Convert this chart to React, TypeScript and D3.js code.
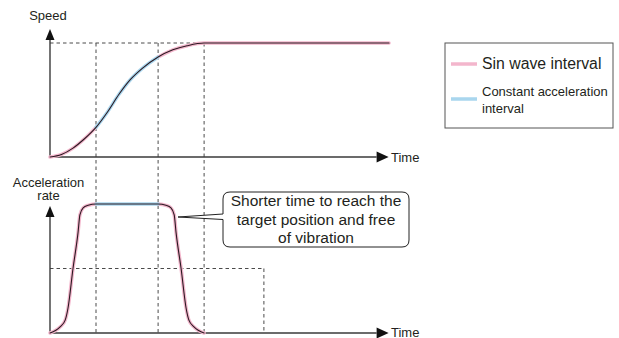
import React from "react";
import * as d3 from "d3";

// Phase boundaries (time units: one sine-ramp duration = 1)
const phaseTimes = [1, 2.35, 3.35];
const flatEnd = 7.37;
const axisEnd = 7.1;
const compareEnd = 4.65;
const compareLevel = 0.5;

// Speed curve (normalized)
const speedT = [0, 0.25, 0.5, 0.75, 1.0, 1.25, 1.5, 1.75, 2.0, 2.35, 2.67, 2.98, 3.35, 7.37];
const speedV = [0, 0.022, 0.078, 0.16, 0.26, 0.395, 0.55, 0.68, 0.775, 0.877, 0.94, 0.976, 1.0, 1.0];

// Acceleration curve (normalized)
const accT = [0, 0.22, 0.33, 0.39, 0.5, 0.61, 0.65, 0.72, 0.83, 1.0, 2.35, 2.52, 2.63, 2.7, 2.74, 2.85, 2.96, 3.02, 3.13, 3.35];
const accV = [0, 0.047, 0.1, 0.19, 0.5, 0.78, 0.915, 0.97, 0.99, 1.0, 1.0, 0.99, 0.97, 0.915, 0.78, 0.5, 0.19, 0.1, 0.047, 0];

const legendLabels = ["Sin wave interval", ["Constant acceleration", "interval"]];
const calloutLines = ["Shorter time to reach the", "target position and free", "of vibration"];

const PINK = "#f3b6cc";
const BLUE = "#a9d6ee";
const DARK = "#2b1a22";
const AXIS = "#3a3a3a";
const DASH = "#4a4a4a";
const FONT = "'Liberation Sans', Arial, Helvetica, sans-serif";
const TEXT = "#231f20";

export default function App() {
  const x = d3.scaleLinear().domain([0, 1]).range([50, 96]);
  const yS = d3.scaleLinear().domain([0, 1]).range([157, 43]);
  const yA = d3.scaleLinear().domain([0, 1]).range([333, 204]);

  const speedPts: [number, number][] = speedT.map((t, i) => [t, speedV[i]]);
  const accPts: [number, number][] = accT.map((t, i) => [t, accV[i]]);

  const lineS = d3.line<[number, number]>().x((d) => x(d[0])).y((d) => yS(d[1])).curve(d3.curveMonotoneX);
  const lineA = d3.line<[number, number]>().x((d) => x(d[0])).y((d) => yA(d[1])).curve(d3.curveMonotoneX);

  const [t1, t2, t3] = phaseTimes;
  const seg = (pts: [number, number][], a: number, b: number) => pts.filter((p) => p[0] >= a - 1e-9 && p[0] <= b + 1e-9);

  const x0 = x(0);
  const xAxisEnd = x(axisEnd);

  const xArrow = (yy: number) => `M${xAxisEnd},${yy - 5.5} L${xAxisEnd + 12},${yy} L${xAxisEnd},${yy + 5.5} Z`;
  const yArrow = (tip: number) => `M${x0 - 4.5},${tip + 11} L${x0},${tip} L${x0 + 4.5},${tip + 11} Z`;

  // callout box
  const bx0 = 223, bx1 = 409, by0 = 192, by1 = 247, r = 7;
  const tipX = 178, tipY = 217;
  const calloutPath = [
    `M${bx0 + r},${by0}`,
    `L${bx1 - r},${by0}`,
    `Q${bx1},${by0} ${bx1},${by0 + r}`,
    `L${bx1},${by1 - r}`,
    `Q${bx1},${by1} ${bx1 - r},${by1}`,
    `L${bx0 + r},${by1}`,
    `Q${bx0},${by1} ${bx0},${by1 - r}`,
    `L${bx0},219.5`,
    `L${tipX},${tipY}`,
    `L${bx0},214`,
    `L${bx0},${by0 + r}`,
    `Q${bx0},${by0} ${bx0 + r},${by0}`,
    "Z",
  ].join(" ");

  return (
    <svg width={619} height={338} style={{ position: "absolute", left: 0, top: 0, background: "#fff" }} fontFamily={FONT}>
      {/* dashed guides */}
      <g stroke={DASH} strokeWidth={1} strokeDasharray="3.5,3" fill="none">
        <line x1={x0} x2={x(t3)} y1={yS(1)} y2={yS(1)} />
        {phaseTimes.map((t) => (
          <line key={t} x1={x(t)} x2={x(t)} y1={yS(1)} y2={yA(0)} />
        ))}
        <line x1={x0} x2={x(compareEnd)} y1={yA(compareLevel)} y2={yA(compareLevel)} />
        <line x1={x(compareEnd)} x2={x(compareEnd)} y1={yA(compareLevel)} y2={yA(0)} />
      </g>

      {/* axes */}
      <g stroke={AXIS} strokeWidth={1.4}>
        <line x1={x0} x2={xAxisEnd} y1={yS(0)} y2={yS(0)} />
        <line x1={x0} x2={x0} y1={39} y2={yS(0)} />
        <line x1={x0} x2={xAxisEnd} y1={yA(0)} y2={yA(0)} />
        <line x1={x0} x2={x0} y1={216} y2={yA(0)} />
      </g>
      <g fill="#111">
        <path d={xArrow(yS(0))} />
        <path d={xArrow(yA(0))} />
        <path d={yArrow(29)} />
        <path d={yArrow(206)} />
      </g>

      {/* speed curve */}
      <g fill="none" strokeLinecap="round">
        <path d={lineS(seg(speedPts, 0, t1)) || ""} stroke={PINK} strokeWidth={3.5} />
        <path d={lineS(seg(speedPts, t2, flatEnd)) || ""} stroke={PINK} strokeWidth={3.5} />
        <path d={lineS(seg(speedPts, t1, t2)) || ""} stroke={BLUE} strokeWidth={3.5} />
        <path d={lineS(speedPts) || ""} stroke={DARK} strokeWidth={1.1} />
      </g>

      {/* acceleration curve */}
      <g fill="none" strokeLinecap="round">
        <path d={lineA(seg(accPts, 0, t1)) || ""} stroke={PINK} strokeWidth={3.5} />
        <path d={lineA(seg(accPts, t2, t3)) || ""} stroke={PINK} strokeWidth={3.5} />
        <path d={lineA(seg(accPts, t1, t2)) || ""} stroke={BLUE} strokeWidth={3.5} />
        <path d={lineA(accPts) || ""} stroke={DARK} strokeWidth={1.1} />
      </g>

      {/* axis labels */}
      <g fill={TEXT} fontSize={13}>
        <text x={48} y={20} textAnchor="middle">Speed</text>
        <text x={48.5} y={187} textAnchor="middle">Acceleration</text>
        <text x={48.5} y={200} textAnchor="middle">rate</text>
        <text x={391} y={yS(0) + 4.7}>Time</text>
        <text x={391} y={yA(0) + 4.3}>Time</text>
      </g>

      {/* callout */}
      <path d={calloutPath} fill="#fff" stroke="#222" strokeWidth={1} />
      <g fill={TEXT} fontSize={15.5} textAnchor="middle">
        {calloutLines.map((l, i) => (
          <text key={i} x={316} y={206 + i * 18.5}>{l}</text>
        ))}
      </g>

      {/* legend */}
      <rect x={445} y={43} width={168} height={85} fill="#fff" stroke="#555" strokeWidth={1} />
      <line x1={451} x2={477} y1={64} y2={64} stroke={PINK} strokeWidth={3.5} />
      <line x1={451} x2={477} y1={99} y2={99} stroke={BLUE} strokeWidth={3.5} />
      <text x={482} y={69} fontSize={15.8} fill={TEXT}>{legendLabels[0] as string}</text>
      <text x={482} y={96} fontSize={13} fill={TEXT}>{(legendLabels[1] as string[])[0]}</text>
      <text x={482} y={113} fontSize={13} fill={TEXT}>{(legendLabels[1] as string[])[1]}</text>
    </svg>
  );
}
